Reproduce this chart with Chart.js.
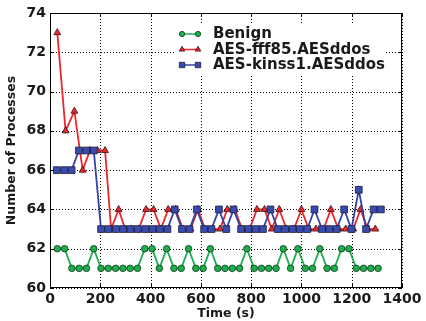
<!DOCTYPE html>
<html>
<head>
<meta charset="utf-8">
<script src="https://cdn.jsdelivr.net/npm/chart.js@4.4.1/dist/chart.umd.min.js"></script>
<style>
html, body { margin: 0; padding: 0; background: #fff; }
#wrap { width: 426px; height: 321px; }
</style>
</head>
<body>
<div id="wrap"><canvas id="grafico" width="426" height="321"></canvas></div>
<script>
// valores (tiempo en s, numero de procesos)
var tiemposBenign = [29, 58, 87, 116, 145, 174, 203, 232, 261, 290, 319, 348, 377, 406, 435,
    464, 493, 522, 551, 580, 609, 638, 667, 696, 725, 754, 783, 812, 841, 870,
    899, 928, 957, 986, 1015, 1044, 1073, 1102, 1131, 1160, 1189, 1218, 1247, 1276, 1305];
var valoresBenign = [62, 62, 61, 61, 61, 62, 61, 61, 61, 61, 61, 61, 62, 62, 61,
    62, 61, 61, 62, 61, 61, 62, 61, 61, 61, 61, 62, 61, 61, 61,
    61, 62, 61, 62, 61, 61, 62, 61, 61, 62, 62, 61, 61, 61, 61];

var tiemposFff85 = [29, 62, 97, 130, 159, 189, 219, 243, 273, 299, 323, 353, 382, 412, 441,
    470, 500, 529, 559, 588, 617, 647, 676, 705, 735, 764, 794, 823, 853, 882,
    912, 941, 970, 1000, 1029, 1058, 1088, 1117, 1147, 1176, 1206, 1235, 1264, 1294];
var valoresFff85 = [73, 68, 69, 66, 67, 67, 67, 63, 64, 63, 63, 63, 64, 64, 63,
    64, 64, 63, 63, 64, 63, 63, 63, 64, 64, 63, 63, 64, 64, 63,
    64, 63, 63, 64, 63, 63, 63, 64, 63, 63, 63, 64, 63, 63];

var tiemposKinss1 = [27, 57, 86, 115, 144, 174, 203, 232, 262, 291, 320, 349, 379, 408, 437,
    467, 496, 525, 555, 584, 613, 642, 672, 701, 730, 760, 789, 818, 847, 877,
    906, 935, 965, 994, 1023, 1052, 1082, 1111, 1140, 1170, 1199, 1228, 1257, 1287, 1316];
var valoresKinss1 = [66, 66, 66, 67, 67, 67, 63, 63, 63, 63, 63, 63, 63, 63, 63,
    63, 64, 63, 63, 64, 63, 63, 64, 63, 64, 63, 63, 63, 63, 64,
    63, 63, 63, 63, 63, 64, 63, 63, 63, 64, 63, 65, 63, 64, 64];

var ticksX = [0, 200, 400, 600, 800, 1000, 1200, 1400];
var ticksY = [60, 62, 64, 66, 68, 70, 72, 74];

function serie(tiempos, valores) {
    var puntos = [];
    for (var i = 0; i < tiempos.length; i++) {
        puntos.push({ x: tiempos[i], y: valores[i] });
    }
    return puntos;
}

var fuenteTicks = { family: "'DejaVu Sans'", size: 14, weight: 'bold' };
var fuenteTitulo = { family: "'DejaVu Sans'", size: 12.5, weight: 'bold' };
var colorTexto = '#1a1a1a';

// rejilla punteada detras de las series
var rejillaPlugin = {
    id: 'rejilla',
    beforeDatasetsDraw: function (chart) {
        var ctx = chart.ctx;
        var a = chart.chartArea;
        var sx = chart.scales.x, sy = chart.scales.y;
        ctx.save();
        ctx.strokeStyle = '#000';
        ctx.lineWidth = 1;
        ctx.setLineDash([1, 2]);
        ctx.beginPath();
        ticksX.forEach(function (v) {
            var px = Math.round(sx.getPixelForValue(v)) + 0.5;
            ctx.moveTo(px, a.top); ctx.lineTo(px, a.bottom);
        });
        ticksY.forEach(function (v) {
            var py = Math.round(sy.getPixelForValue(v)) + 0.5;
            ctx.moveTo(a.left, py); ctx.lineTo(a.right, py);
        });
        ctx.stroke();
        ctx.restore();
    }
};

// marco completo y ticks hacia adentro, como en matplotlib
var marcoPlugin = {
    id: 'marco',
    afterDraw: function (chart) {
        var ctx = chart.ctx;
        var a = chart.chartArea;
        var sx = chart.scales.x, sy = chart.scales.y;
        ctx.save();
        ctx.strokeStyle = '#000';
        ctx.lineWidth = 1;
        ctx.strokeRect(a.left + 0.5, a.top + 0.5, a.right - a.left - 1, a.bottom - a.top - 1);
        ctx.beginPath();
        ticksX.forEach(function (v) {
            var px = Math.round(sx.getPixelForValue(v)) + 0.5;
            ctx.moveTo(px, a.bottom); ctx.lineTo(px, a.bottom - 4);
            ctx.moveTo(px, a.top); ctx.lineTo(px, a.top + 4);
        });
        ticksY.forEach(function (v) {
            var py = Math.round(sy.getPixelForValue(v)) + 0.5;
            ctx.moveTo(a.left, py); ctx.lineTo(a.left + 4, py);
            ctx.moveTo(a.right, py); ctx.lineTo(a.right - 4, py);
        });
        ctx.stroke();
        ctx.restore();
    }
};

// leyenda dentro del area, arriba a la derecha
var leyendaPlugin = {
    id: 'leyenda',
    afterDatasetsDraw: function (chart) {
        var ctx = chart.ctx;
        var orden = [2, 1, 0];
        ctx.save();
        ctx.fillStyle = '#fff';
        ctx.fillRect(176, 24, 208, 50);
        orden.forEach(function (idx, fila) {
            var ds = chart.data.datasets[idx];
            var y = 34 + fila * 15.5;
            ctx.strokeStyle = ds.borderColor;
            ctx.lineWidth = 1.5;
            ctx.beginPath();
            ctx.moveTo(182, y); ctx.lineTo(198, y);
            ctx.stroke();
            [182, 198].forEach(function (x) {
                ctx.fillStyle = ds.pointBackgroundColor;
                ctx.strokeStyle = ds.pointBorderColor;
                ctx.lineWidth = ds.pointBorderWidth;
                Chart.helpers.drawPoint(ctx, {
                    pointStyle: ds.pointStyle,
                    radius: ds.pointRadius * 0.8,
                    rotation: 0,
                    borderWidth: ds.pointBorderWidth
                }, x, y);
            });
            ctx.fillStyle = colorTexto;
            ctx.font = "bold 15px 'DejaVu Sans'";
            ctx.textBaseline = 'middle';
            ctx.textAlign = 'left';
            ctx.fillText(ds.label, 213, y + 0.5);
        });
        ctx.restore();
    }
};

var ctx = document.getElementById('grafico').getContext('2d');
var chart = new Chart(ctx, {
    type: 'line',
    data: {
        datasets: [{
            label: 'AES-kinss1.AESddos',
            data: serie(tiemposKinss1, valoresKinss1),
            borderColor: '#3342a3',
            borderWidth: 1.8,
            pointStyle: 'rect',
            pointRadius: 4.8,
            pointBackgroundColor: '#3a4bb0',
            pointBorderColor: '#1d1d3a',
            pointBorderWidth: 0.8,
            order: 0
        }, {
            label: 'AES-fff85.AESddos',
            data: serie(tiemposFff85, valoresFff85),
            borderColor: '#e8282c',
            borderWidth: 1.8,
            pointStyle: 'triangle',
            pointRadius: 4,
            pointBackgroundColor: '#e8282c',
            pointBorderColor: '#3a1010',
            pointBorderWidth: 0.8,
            order: 1
        }, {
            label: 'Benign',
            data: serie(tiemposBenign, valoresBenign),
            borderColor: '#1fae4e',
            borderWidth: 1.8,
            pointStyle: 'circle',
            pointRadius: 3.3,
            pointBackgroundColor: '#1fae4e',
            pointBorderColor: '#0f3a1c',
            pointBorderWidth: 0.8,
            order: 2
        }]
    },
    options: {
        responsive: false,
        animation: false,
        layout: { padding: { top: 13, right: 24, left: 0, bottom: 0 } },
        plugins: {
            legend: { display: false },
            tooltip: { enabled: false }
        },
        scales: {
            x: {
                type: 'linear',
                min: 0,
                max: 1400,
                afterBuildTicks: function (axis) {
                    axis.ticks = ticksX.map(function (v) { return { value: v }; });
                },
                afterFit: function (axis) { axis.height = 33; },
                grid: { display: false, drawTicks: false },
                border: { display: false },
                ticks: {
                    font: fuenteTicks, color: colorTexto, padding: 3, maxRotation: 0,
                    callback: function (value) { return String(value); }
                },
                title: {
                    display: true,
                    text: 'Time (s)',
                    font: fuenteTitulo,
                    color: colorTexto,
                    padding: { top: 0, bottom: 0 }
                }
            },
            y: {
                min: 60,
                max: 74,
                afterBuildTicks: function (axis) {
                    axis.ticks = ticksY.map(function (v) { return { value: v }; });
                },
                afterFit: function (axis) { axis.width = 50; },
                grid: { display: false, drawTicks: false },
                border: { display: false },
                ticks: {
                    font: fuenteTicks, color: colorTexto, padding: 4,
                    callback: function (value) { return String(value); }
                },
                title: {
                    display: true,
                    text: 'Number of Processes',
                    font: fuenteTitulo,
                    color: colorTexto,
                    padding: { top: 4, bottom: 0 }
                }
            }
        }
    },
    plugins: [rejillaPlugin, leyendaPlugin, marcoPlugin]
});
</script>
</body>
</html>
